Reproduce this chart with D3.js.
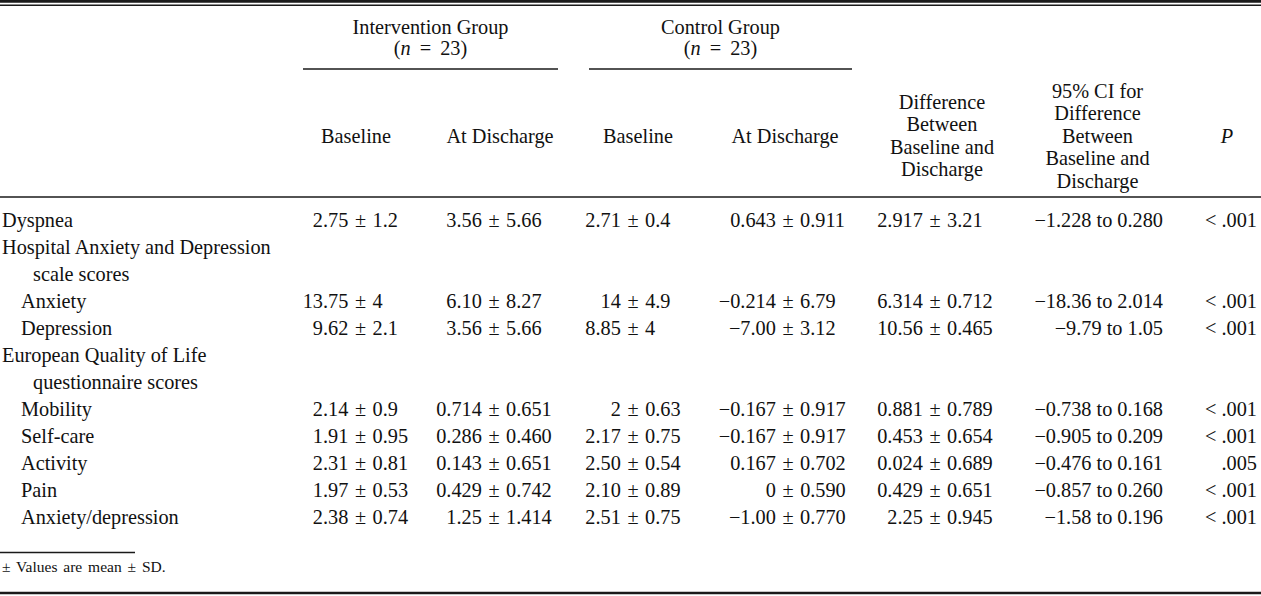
<!DOCTYPE html>
<html>
<head>
<meta charset="utf-8">
<script src="https://cdn.jsdelivr.net/npm/d3@7"></script>
<style>
  body { margin: 0; background: #fff; }
  svg { display: block; }
  text { font-family: "Liberation Serif", "Times New Roman", serif; fill: #111; }
</style>
</head>
<body>
<svg id="chart" width="1261" height="596"></svg>
<script>
// ---------------- DATA ----------------
const rowLabels = [
  "Dyspnea",
  "Hospital Anxiety and Depression",
  "scale scores",
  "Anxiety",
  "Depression",
  "European Quality of Life",
  "questionnaire scores",
  "Mobility",
  "Self-care",
  "Activity",
  "Pain",
  "Anxiety/depression"
];
const rowIndent = [0, 0, 2, 1, 1, 0, 2, 1, 1, 1, 1, 1];

const interventionBaseline = ["2.75 ± 1.2", null, null, "13.75 ± 4", "9.62 ± 2.1", null, null,
  "2.14 ± 0.9", "1.91 ± 0.95", "2.31 ± 0.81", "1.97 ± 0.53", "2.38 ± 0.74"];
const interventionDischarge = ["3.56 ± 5.66", null, null, "6.10 ± 8.27", "3.56 ± 5.66", null, null,
  "0.714 ± 0.651", "0.286 ± 0.460", "0.143 ± 0.651", "0.429 ± 0.742", "1.25 ± 1.414"];
const controlBaseline = ["2.71 ± 0.4", null, null, "14 ± 4.9", "8.85 ± 4", null, null,
  "2 ± 0.63", "2.17 ± 0.75", "2.50 ± 0.54", "2.10 ± 0.89", "2.51 ± 0.75"];
const controlDischarge = ["0.643 ± 0.911", null, null, "−0.214 ± 6.79", "−7.00 ± 3.12", null, null,
  "−0.167 ± 0.917", "−0.167 ± 0.917", "0.167 ± 0.702", "0 ± 0.590", "−1.00 ± 0.770"];
const difference = ["2.917 ± 3.21", null, null, "6.314 ± 0.712", "10.56 ± 0.465", null, null,
  "0.881 ± 0.789", "0.453 ± 0.654", "0.024 ± 0.689", "0.429 ± 0.651", "2.25 ± 0.945"];
const ci95 = ["−1.228 to 0.280", null, null, "−18.36 to 2.014", "−9.79 to 1.05", null, null,
  "−0.738 to 0.168", "−0.905 to 0.209", "−0.476 to 0.161", "−0.857 to 0.260", "−1.58 to 0.196"];
const pValues = ["< .001", null, null, "< .001", "< .001", null, null,
  "< .001", "< .001", ".005", "< .001", "< .001"];

const groupHeaders = ["Intervention Group", "Control Group"];
const groupN = [23, 23];
const columnHeaders = [
  ["Baseline"],
  ["At Discharge"],
  ["Baseline"],
  ["At Discharge"],
  ["Difference", "Between", "Baseline and", "Discharge"],
  ["95% CI for", "Difference", "Between", "Baseline and", "Discharge"],
  ["P"]
];
const footnote = "± Values are mean ± SD.";

// ---------------- LAYOUT ----------------
const W = 1261, H = 596;
const svg = d3.select("#chart");
const fs = 20.3;

// column layout: type "pm" aligns on ±, "right" right-aligns
const columns = [
  { data: interventionBaseline, type: "pm", x: 360.5, hx: 356 },
  { data: interventionDischarge, type: "pm", x: 494, hx: 500 },
  { data: controlBaseline, type: "pm", x: 633, hx: 638 },
  { data: controlDischarge, type: "pm", x: 788, hx: 785 },
  { data: difference, type: "pm", x: 935, hx: 942 },
  { data: ci95, type: "right", x: 1163, hx: 1097.5 },
  { data: pValues, type: "right", x: 1257, hx: 1227 }
];
const groupSpans = [[303, 558], [589, 852]];

const y = d3.scaleLinear().domain([0, rowLabels.length - 1]).range([227, 524]);
const indentX = d3.scaleOrdinal().domain([0, 1, 2]).range([2, 21, 33]);

// ---------------- RULES ----------------
const rule = (x1, x2, yy, w) => svg.append("line")
  .attr("x1", x1).attr("x2", x2).attr("y1", yy).attr("y2", yy)
  .attr("stroke", "#1a1a1a").attr("stroke-width", w);
rule(0, W, 1.3, 2.7);
rule(0, W, 5.2, 1.4);
groupSpans.forEach(s => rule(s[0], s[1], 69, 1.4));
rule(0, W, 197, 1.4);
rule(0, 135, 552.5, 1.4);
rule(0, W, 593, 2.6);

// ---------------- GROUP HEADERS ----------------
groupHeaders.forEach((g, i) => {
  const cx = (groupSpans[i][0] + groupSpans[i][1]) / 2;
  svg.append("text").attr("x", cx).attr("y", 34).attr("text-anchor", "middle")
    .attr("font-size", fs).text(g);
  const t = svg.append("text").attr("x", cx).attr("y", 55).attr("text-anchor", "middle")
    .attr("font-size", fs).attr("word-spacing", 4).attr("xml:space", "preserve");
  t.append("tspan").text("(");
  t.append("tspan").attr("font-style", "italic").text("n");
  t.append("tspan").text(" = " + groupN[i] + ")");
});

// ---------------- COLUMN HEADERS ----------------
const headMid = 142.5, headLH = 22.5;
columns.forEach((c, i) => {
  const lines = columnHeaders[i];
  lines.forEach((ln, j) => {
    svg.append("text")
      .attr("x", c.hx)
      .attr("y", headMid + (j - (lines.length - 1) / 2) * headLH)
      .attr("text-anchor", "middle")
      .attr("font-size", fs)
      .attr("font-style", ln === "P" ? "italic" : null)
      .text(ln);
  });
});

// ---------------- ROW LABELS ----------------
svg.append("g").selectAll("text").data(rowLabels).join("text")
  .attr("x", (d, i) => indentX(rowIndent[i]))
  .attr("y", (d, i) => y(i))
  .attr("font-size", fs)
  .text(d => d);

// ---------------- CELLS ----------------
columns.forEach(c => {
  const g = svg.append("g");
  c.data.forEach((v, i) => {
    if (v == null) return;
    const t = g.append("text").attr("y", y(i)).attr("font-size", fs)
      .attr("xml:space", "preserve").text(v);
    if (c.type === "pm") {
      t.attr("word-spacing", 1.5).attr("x", 0);
      const idx = v.indexOf("±");
      const ext = t.node().getExtentOfChar(idx);
      t.attr("x", c.x - (ext.x + ext.width / 2));
    } else {
      t.attr("x", c.x).attr("text-anchor", "end");
    }
  });
});

// ---------------- FOOTNOTE ----------------
svg.append("text").attr("x", 2).attr("y", 572).attr("font-size", 15.5)
  .attr("word-spacing", 2).attr("xml:space", "preserve").text(footnote);
</script>
</body>
</html>
